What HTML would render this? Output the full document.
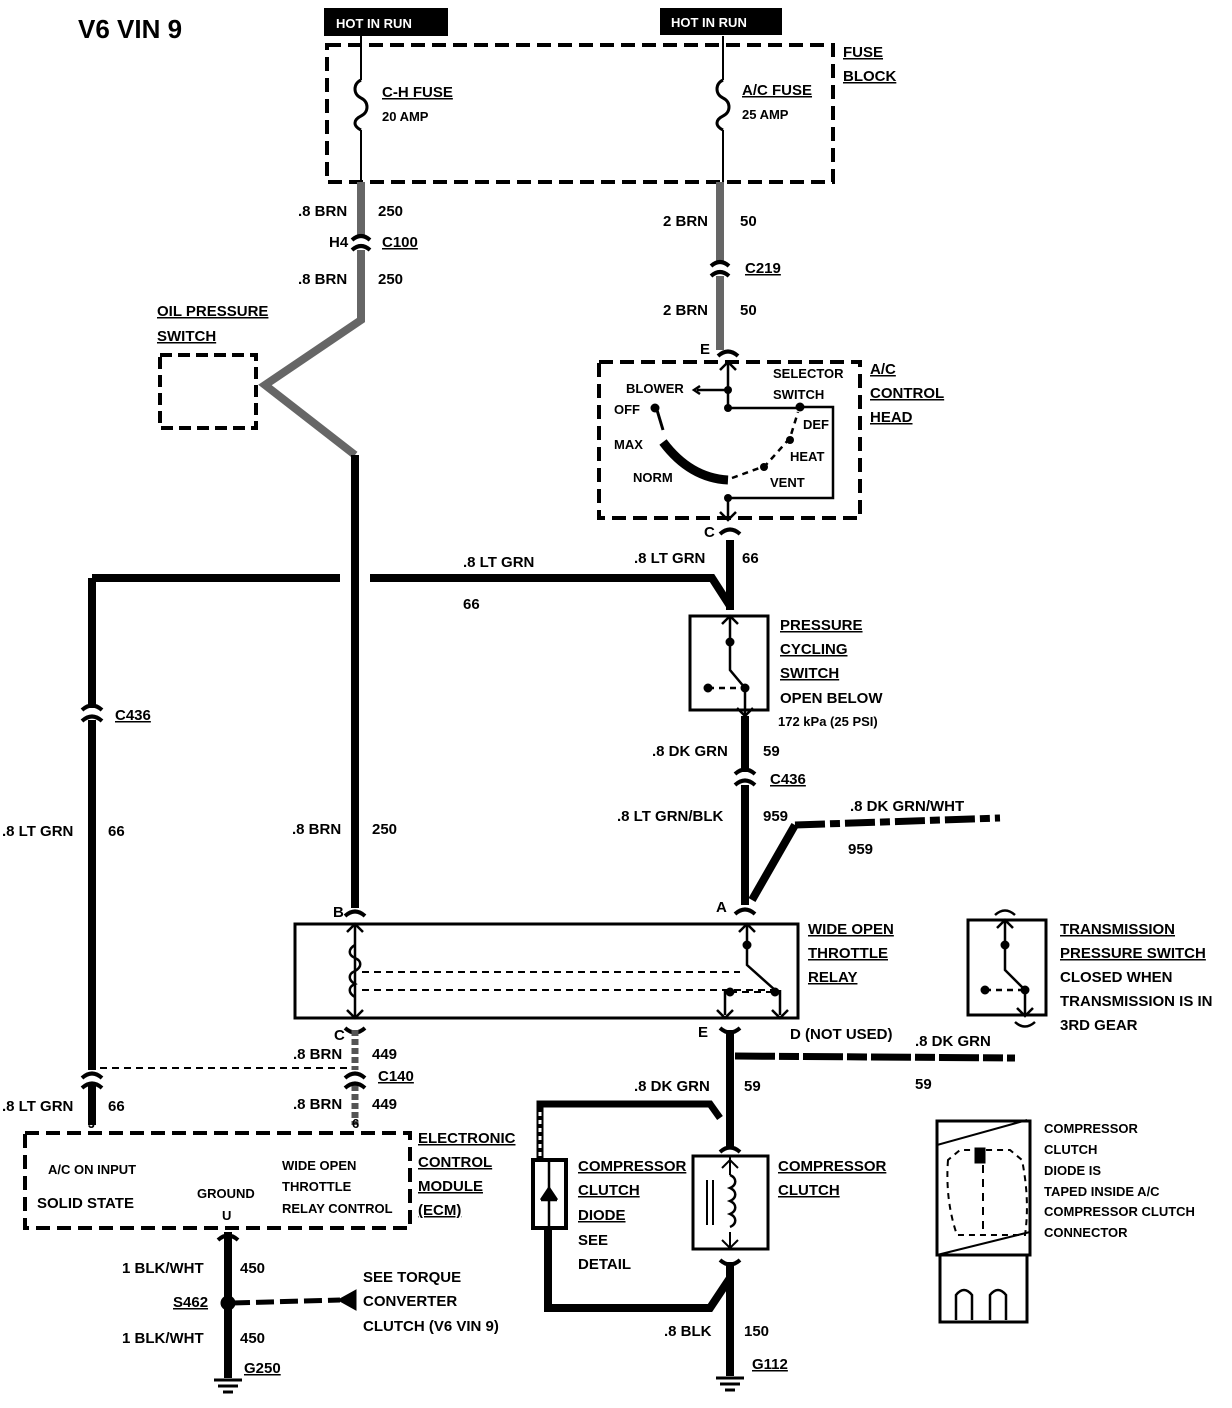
<!DOCTYPE html>
<html><head><meta charset="utf-8"><style>
html,body{margin:0;padding:0;background:#fff}
svg{display:block}
text{font-family:"Liberation Sans",sans-serif;font-weight:bold;font-size:15px;fill:#000}
.s{font-size:13px}
.u{text-decoration:underline}
</style></head><body>
<svg width="1232" height="1408" viewBox="0 0 1232 1408" xmlns="http://www.w3.org/2000/svg">
<g fill="none" stroke="#000">
<!-- fuse block -->
<rect x="327" y="45" width="506" height="137" stroke-width="4" stroke-dasharray="14,7"/>
<!-- fuses -->
<path d="M361 36V80 M361 130V182 M723 36V80 M723 130V182" stroke-width="2"/>
<path d="M361 80c-8 4-8 14 0 18c8 4 8 14 0 18c-8 4-8 10 0 14 M723 80c-8 4-8 14 0 18c8 4 8 14 0 18c-8 4-8 10 0 14" stroke-width="3"/>
<!-- gray wires top -->
<path d="M361 182V238 M361 250V320 L265 385 L355 455" stroke="#666" stroke-width="8"/>
<path d="M720 182V264 M720 276V350" stroke="#666" stroke-width="8"/>
<path d="M352 240q9-8 18 0 M352 250q9-8 18 0 M711 266q9-8 18 0 M711 276q9-8 18 0 M718 356q10-9 20 0" stroke-width="4"/>
<!-- oil pressure switch -->
<rect x="160" y="355" width="96" height="73" stroke-width="4" stroke-dasharray="12,6"/>
<!-- brn wire down -->
<path d="M355 455V908" stroke-width="8"/>
<path d="M345 916q10-9 20 0" stroke-width="4"/>
<!-- A/C control head -->
<rect x="599" y="362" width="261" height="156" stroke-width="4" stroke-dasharray="14,7"/>
<path d="M728 362V408 M728 408H798 M798 407H833V498H728V520 M728 390H697" stroke-width="2.5"/>
<path d="M720 370l8-8 8 8 M720 512l8 8 8-8 M700 386l-6 4 6 4" stroke-width="2.5"/>
<path d="M663 442Q690 478 728 480" stroke-width="9"/>
<path d="M657 410L663 430" stroke-width="3"/>
<path d="M732 478L765 466L790 438L798 412" stroke-width="2.5" stroke-dasharray="6,5"/>
<g fill="#000" stroke="none"><circle cx="728" cy="390" r="4"/><circle cx="728" cy="408" r="4"/><circle cx="800" cy="407" r="4.5"/><circle cx="655" cy="408" r="4.5"/><circle cx="790" cy="440" r="4"/><circle cx="764" cy="467" r="4"/><circle cx="728" cy="498" r="4"/></g>
<!-- LT GRN wires -->
<path d="M720 534q10-9 20 0" stroke-width="4"/>
<path d="M730 540V610" stroke-width="8"/>
<path d="M370 578H712L730 606 M92 578H340 M92 578V708 M92 720V1070 M92 1085V1125" stroke-width="8"/>
<path d="M82 710q10-9 20 0 M82 721q10-9 20 0 M82 1078q10-9 20 0 M82 1088q10-9 20 0" stroke-width="4"/>
<!-- pressure cycling switch -->
<rect x="690" y="616" width="78" height="94" stroke-width="3"/>
<path d="M730 616V670L745 688 M745 690V716 M722 624l8-8 8 8 M737 708l8 8 8-8" stroke-width="2.5"/>
<path d="M708 688H745" stroke-width="2.5" stroke-dasharray="6,5"/>
<g fill="#000"><circle cx="730" cy="642" r="4"/><circle cx="745" cy="688" r="4"/><circle cx="708" cy="688" r="4"/></g>
<path d="M745 716V772 M745 785V905" stroke-width="8"/>
<path d="M735 774q10-9 20 0 M735 785q10-9 20 0 M735 914q10-9 20 0" stroke-width="4"/>
<path d="M752 900L795 825" stroke-width="8"/>
<path d="M795 825L1000 818" stroke-width="7" stroke-dasharray="30,5,10,5"/>
<!-- WOT relay -->
<rect x="295" y="924" width="503" height="94" stroke-width="3"/>
<path d="M355 924V1018 M747 924V965L775 990 M780 990V1015 M725 990V1015" stroke-width="2.5"/>
<path d="M355 945c-7 4-7 10 0 13c7 3 7 9 0 13c-7 3-7 9 0 13c-7 3-7 9 0 13" stroke-width="2.5"/>
<path d="M347 932l8-8 8 8 M347 1010l8 8 8-8 M739 932l8-8 8 8 M717 1010l8 8 8-8 M772 1010l8 8 8-8" stroke-width="2.5"/>
<path d="M362 972H740 M362 990H775 M730 992H775" stroke-width="2" stroke-dasharray="7,5"/>
<g fill="#000"><circle cx="747" cy="945" r="4"/><circle cx="775" cy="992" r="4"/><circle cx="730" cy="992" r="4"/></g>
<!-- below relay -->
<path d="M345 1028q10 9 20 0 M720 1028q10 9 20 0" stroke-width="4"/>
<path d="M355 1030V1070 M355 1085V1125" stroke="#555" stroke-width="7" stroke-dasharray="6,3"/>
<path d="M345 1078q10-9 20 0 M345 1088q10-9 20 0" stroke-width="4"/>
<path d="M100 1068H352" stroke-width="2" stroke-dasharray="7,5"/>
<path d="M730 1030V1148" stroke-width="8"/>
<path d="M735 1056L1015 1058" stroke-width="7" stroke-dasharray="40,4,20,4"/>
<!-- transmission switch -->
<rect x="968" y="920" width="78" height="95" stroke-width="3"/>
<path d="M1005 920V970L1025 990 M1025 990V1015 M997 928l8-8 8 8 M1017 1008l8 8 8-8 M995 915q10-9 20 0 M1015 1022q10 9 20 0" stroke-width="2.5"/>
<path d="M985 990H1025" stroke-width="2.5" stroke-dasharray="6,5"/>
<g fill="#000"><circle cx="1005" cy="945" r="4"/><circle cx="1025" cy="990" r="4"/><circle cx="985" cy="990" r="4"/></g>
<!-- ECM -->
<rect x="25" y="1133" width="385" height="95" stroke-width="4" stroke-dasharray="14,7"/>
<path d="M228 1232V1378" stroke-width="8"/>
<path d="M218 1240q10-9 20 0" stroke-width="4"/>
<path d="M214 1380h28 M218 1386h20 M223 1392h10" stroke-width="3"/>
<path d="M232 1303L340 1300" stroke-width="5" stroke-dasharray="18,6"/>
<path d="M356 1290L338 1300L356 1310Z" fill="#000"/>
<circle cx="228" cy="1303" r="7" fill="#000"/>
<!-- compressor clutch -->
<path d="M720 1118L710 1104H540V1160" stroke-width="7"/>
<path d="M540 1112V1160" stroke="#fff" stroke-width="3" stroke-dasharray="4,4"/>
<rect x="533" y="1160" width="33" height="68" stroke-width="4"/>
<path d="M549 1160V1228" stroke-width="2.5"/>
<path d="M541 1200h16 M541 1200l8-12 8 12" stroke-width="2.5" fill="#000"/>
<path d="M548 1228V1308H710L730 1278" stroke-width="8"/>
<path d="M720 1152q10-9 20 0 M720 1260q10 9 20 0" stroke-width="4"/>
<rect x="693" y="1156" width="75" height="93" stroke-width="3"/>
<path d="M707 1180V1225 M713 1180V1225 M730 1156V1175 M730 1232V1249 M722 1168l8-8 8 8 M722 1240l8 8 8-8" stroke-width="2"/>
<path d="M730 1175c7 3 7 10 0 13c7 3 7 10 0 13c7 3 7 10 0 13c7 3 7 10 0 13" stroke-width="2.5"/>
<path d="M730 1262V1376" stroke-width="8"/>
<path d="M716 1378h28 M720 1384h20 M725 1390h10" stroke-width="3"/>
<!-- detail -->
<rect x="937" y="1121" width="93" height="134" stroke-width="3"/>
<path d="M937 1145L1027 1120 M937 1255L1030 1232" stroke-width="2"/>
<rect x="940" y="1255" width="87" height="67" stroke-width="3"/>
<path d="M956 1320V1295q8-10 16 0V1320 M990 1320V1295q8-10 16 0V1320" stroke-width="2.5"/>
<path d="M948 1160Q945 1200 957 1235H1025Q1030 1200 1022 1160L1010 1150H960Z" stroke-width="2" stroke-dasharray="6,5"/>
<path d="M983 1165V1235" stroke-width="2" stroke-dasharray="8,6"/>
<rect x="975" y="1148" width="10" height="15" fill="#000"/>
</g>
<!-- black HOT IN RUN boxes -->
<rect x="324" y="8" width="124" height="28" fill="#000"/>
<rect x="660" y="8" width="122" height="27" fill="#000"/>
<text x="336" y="28" style="fill:#fff" class="s">HOT IN RUN</text>
<text x="671" y="27" style="fill:#fff" class="s">HOT IN RUN</text>
<text x="78" y="38" style="font-size:26px">V6 VIN 9</text>
<text x="843" y="57" class="u">FUSE</text><text x="843" y="81" class="u">BLOCK</text>
<text x="382" y="97" class="u">C-H FUSE</text><text x="382" y="121" class="s">20 AMP</text>
<text x="742" y="95" class="u">A/C FUSE</text><text x="742" y="119" class="s">25 AMP</text>
<text x="298" y="216">.8 BRN</text><text x="378" y="216">250</text>
<text x="329" y="247">H4</text><text x="382" y="247" class="u">C100</text>
<text x="298" y="284">.8 BRN</text><text x="378" y="284">250</text>
<text x="157" y="316" class="u">OIL PRESSURE</text><text x="157" y="341" class="u">SWITCH</text>
<text x="663" y="226">2 BRN</text><text x="740" y="226">50</text>
<text x="745" y="273" class="u">C219</text>
<text x="663" y="315">2 BRN</text><text x="740" y="315">50</text>
<text x="700" y="354">E</text>
<text x="870" y="374" class="u">A/C</text><text x="870" y="398" class="u">CONTROL</text><text x="870" y="422" class="u">HEAD</text>
<text x="773" y="378" class="s">SELECTOR</text><text x="773" y="399" class="s">SWITCH</text>
<text x="626" y="393" class="s">BLOWER</text><text x="614" y="414" class="s">OFF</text>
<text x="614" y="449" class="s">MAX</text><text x="633" y="482" class="s">NORM</text>
<text x="803" y="429" class="s">DEF</text><text x="790" y="461" class="s">HEAT</text><text x="770" y="487" class="s">VENT</text>
<text x="704" y="537">C</text>
<text x="463" y="567">.8 LT GRN</text><text x="463" y="609">66</text>
<text x="634" y="563">.8 LT GRN</text><text x="742" y="563">66</text>
<text x="780" y="630" class="u">PRESSURE</text><text x="780" y="654" class="u">CYCLING</text><text x="780" y="678" class="u">SWITCH</text>
<text x="780" y="703">OPEN BELOW</text><text x="778" y="726" class="s">172 kPa (25 PSI)</text>
<text x="652" y="756">.8 DK GRN</text><text x="763" y="756">59</text>
<text x="770" y="784" class="u">C436</text>
<text x="617" y="821">.8 LT GRN/BLK</text><text x="763" y="821">959</text>
<text x="850" y="811">.8 DK GRN/WHT</text><text x="848" y="854">959</text>
<text x="115" y="720" class="u">C436</text>
<text x="2" y="836">.8 LT GRN</text><text x="108" y="836">66</text>
<text x="292" y="834">.8 BRN</text><text x="372" y="834">250</text>
<text x="333" y="917">B</text><text x="716" y="912">A</text>
<text x="808" y="934" class="u">WIDE OPEN</text><text x="808" y="958" class="u">THROTTLE</text><text x="808" y="982" class="u">RELAY</text>
<text x="334" y="1040">C</text><text x="698" y="1037">E</text>
<text x="790" y="1039">D (NOT USED)</text>
<text x="915" y="1046">.8 DK GRN</text><text x="915" y="1089">59</text>
<text x="1060" y="934" class="u">TRANSMISSION</text><text x="1060" y="958" class="u">PRESSURE SWITCH</text>
<text x="1060" y="982">CLOSED WHEN</text><text x="1060" y="1006">TRANSMISSION IS IN</text><text x="1060" y="1030">3RD GEAR</text>
<text x="293" y="1059">.8 BRN</text><text x="372" y="1059">449</text>
<text x="378" y="1081" class="u">C140</text>
<text x="293" y="1109">.8 BRN</text><text x="372" y="1109">449</text>
<text x="2" y="1111">.8 LT GRN</text><text x="108" y="1111">66</text>
<text x="634" y="1091">.8 DK GRN</text><text x="744" y="1091">59</text>
<text x="88" y="1128" class="s">J</text><text x="352" y="1128" class="s">6</text>
<text x="48" y="1174" class="s">A/C ON INPUT</text><text x="37" y="1208">SOLID STATE</text>
<text x="197" y="1198" class="s">GROUND</text><text x="222" y="1220" class="s">U</text>
<text x="282" y="1170" class="s">WIDE OPEN</text><text x="282" y="1191" class="s">THROTTLE</text><text x="282" y="1213" class="s">RELAY CONTROL</text>
<text x="418" y="1143" class="u">ELECTRONIC</text><text x="418" y="1167" class="u">CONTROL</text><text x="418" y="1191" class="u">MODULE</text><text x="418" y="1215" class="u">(ECM)</text>
<text x="578" y="1171" class="u">COMPRESSOR</text><text x="578" y="1195" class="u">CLUTCH</text><text x="578" y="1220" class="u">DIODE</text>
<text x="578" y="1245">SEE</text><text x="578" y="1269">DETAIL</text>
<text x="778" y="1171" class="u">COMPRESSOR</text><text x="778" y="1195" class="u">CLUTCH</text>
<text x="122" y="1273">1 BLK/WHT</text><text x="240" y="1273">450</text>
<text x="173" y="1307" class="u">S462</text>
<text x="122" y="1343">1 BLK/WHT</text><text x="240" y="1343">450</text>
<text x="244" y="1373" class="u">G250</text>
<text x="363" y="1282">SEE TORQUE</text><text x="363" y="1306">CONVERTER</text><text x="363" y="1331">CLUTCH (V6 VIN 9)</text>
<text x="664" y="1336">.8 BLK</text><text x="744" y="1336">150</text>
<text x="752" y="1369" class="u">G112</text>
<g class="s"><text x="1044" y="1133" class="s">COMPRESSOR</text><text x="1044" y="1154" class="s">CLUTCH</text><text x="1044" y="1175" class="s">DIODE IS</text>
<text x="1044" y="1196" class="s">TAPED INSIDE A/C</text><text x="1044" y="1216" class="s">COMPRESSOR CLUTCH</text><text x="1044" y="1237" class="s">CONNECTOR</text></g>
</svg>
</body></html>
